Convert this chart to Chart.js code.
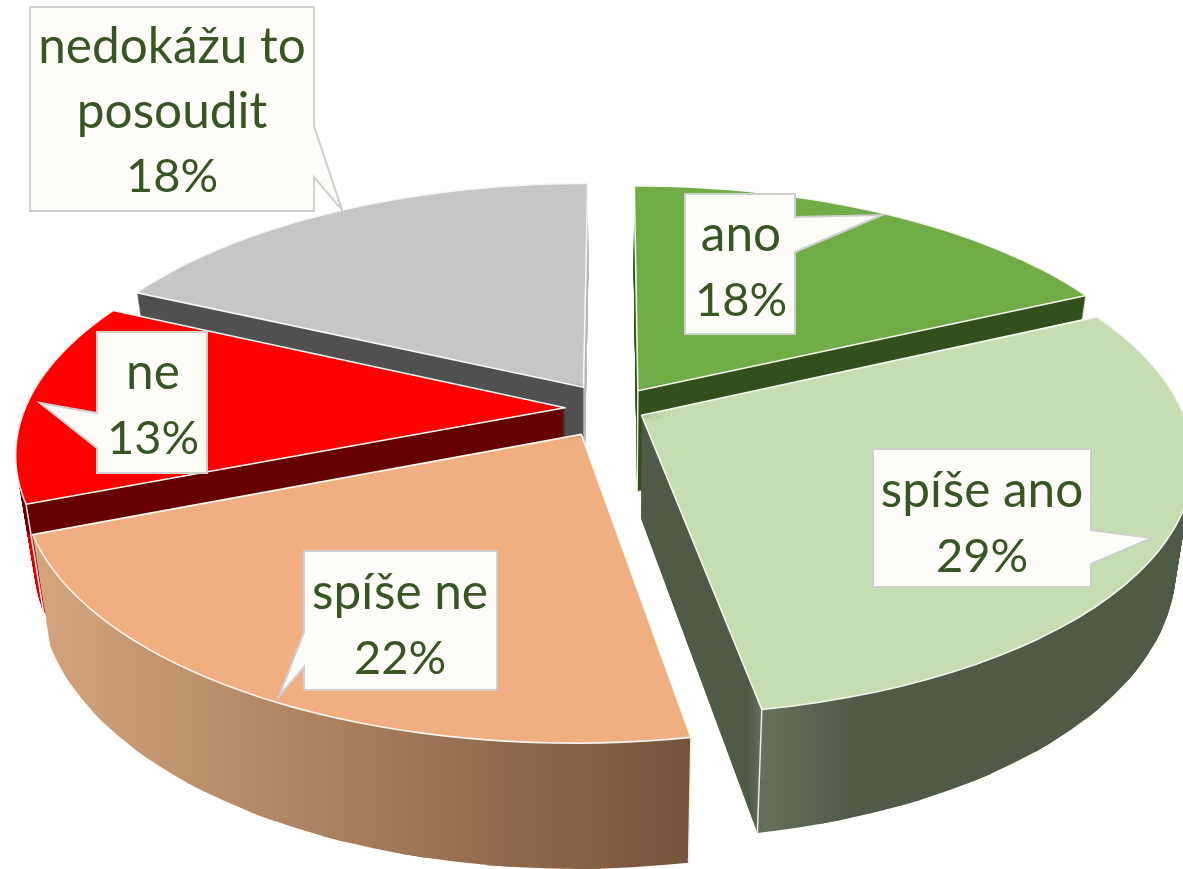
<!DOCTYPE html>
<html><head><meta charset="utf-8">
<style>html,body{margin:0;padding:0;background:#fff}canvas{display:block}</style>
<script src="https://cdn.jsdelivr.net/npm/chart.js@4/dist/chart.umd.min.js"></script>
</head><body><canvas id="c" width="1183" height="869"></canvas>
<script>
const categories = ['ano', 'spíše ano', 'spíše ne', 'ne', 'nedokážu to posoudit'];
const values = [18, 29.2, 21.8, 13, 18];
const explode = [47, 32, 64, 48, 56];
const topColors = ['#70AD47', '#C5DDB0', '#F1AE80', '#FF0000', '#C6C6C6'];

// 3D look
const R = 540, D = 3140, K = 0.455, Z = 102, CX = 613, CY = 408.5, STEP = Math.PI / 22, OVERLAP = 0.04;
const paintOrder = [4, 0, 3, 1, 2];
const wallPaint = [
  {axis:'x', from:0, to:1183, stops:[[0,'#32501B'],[1,'#32501B']]},
  {axis:'x', from:640, to:1183, stops:[[0,'#4F5A47'],[0.2,'#4F5A47'],[0.225,'#64725D'],[0.4,'#4F5A47'],[1,'#4F5A47']]},
  {axis:'x', from:40, to:690, stops:[[0,'#D4A47C'],[1,'#76533A']]},
  {axis:'y', from:0, to:869, stops:[[0,'#660000'],[0.614,'#660000'],[0.616,'#DD0000'],[1,'#DD0000']]},
  {axis:'x', from:0, to:1183, stops:[[0,'#505050'],[0.4925,'#505050'],[0.4935,'#B8B8B8'],[1,'#B8B8B8']]}
];
const edgeLines = [['apex'], ['end'], ['start'], ['start'], []];

const callouts = [
  {box:[685,194,795,334], ptr:[[795,217],[882,215],[795,252]], cx:741, y0:251, lines:['ano']},
  {box:[873,449,1091,587], ptr:[[1091,530],[1152,538],[1091,564]], cx:982, y0:507, lines:['spíše ano']},
  {box:[304,551,497,690], ptr:[[304,667],[279,696],[304,632]], cx:400, y0:609, lines:['spíše ne']},
  {box:[97,332,207,473], ptr:[[97,448],[40,403],[97,413]], cx:153, y0:389, lines:['ne']},
  {box:[30,7,314,211], ptr:[[314,126],[342,210],[314,177]], cx:172, y0:63, lines:['nedokážu to','posoudit']}
];
const labelFont = '49.5px Lato, sans-serif', pctFont = '47px Lato, sans-serif', labelColor = '#375623', lineGap = 64.5;

function project(u, v, z) {
  const s = 1 / (1 - v / D), d = 1 - 0.03 * z / Z;
  return {x: CX + u * s * d, y: CY + K * v * s + z * s};
}
function sliceFrame(arc, i) {
  const mid = (arc.startAngle + arc.endAngle) / 2, e = explode[i];
  const ax = e * Math.cos(mid), ay = e * Math.sin(mid);
  return {
    world(a, r, z) { return project(ax + r * Math.cos(a), ay + r * Math.sin(a), z); }
  };
}
function applySlice(ctx, arc, frame, z) {
  const r = arc.outerRadius, a0 = arc.startAngle, a1 = arc.endAngle;
  const sx = r * Math.cos(a0), sy = r * Math.sin(a0), ex = r * Math.cos(a1), ey = r * Math.sin(a1);
  const A = frame.world(0, 0, z), S = frame.world(a0, R, z), E = frame.world(a1, R, z);
  const det = sx * ey - ex * sy;
  const tsx = S.x - A.x, tsy = S.y - A.y, tex = E.x - A.x, tey = E.y - A.y;
  const a = (tsx * ey - tex * sy) / det, c = (tex * sx - tsx * ex) / det;
  const b = (tsy * ey - tey * sy) / det, d = (tey * sx - tsy * ex) / det;
  ctx.setTransform(a, b, c, d, A.x - a * arc.x - c * arc.y, A.y - b * arc.x - d * arc.y);
}
// draws the arc element piecewise, each narrow piece under its own perspective fit
function drawProjected(ctx, arc, frame, z) {
  const a0 = arc.startAngle, a1 = arc.endAngle, cc = arc.circumference;
  const n = Math.max(1, Math.ceil((a1 - a0) / STEP));
  for (let k = 0; k < n; k++) {
    arc.startAngle = a0 + (a1 - a0) * k / n;
    arc.endAngle = Math.min(a1, a0 + (a1 - a0) * (k + 1) / n + OVERLAP);
    arc.circumference = arc.endAngle - arc.startAngle;
    applySlice(ctx, arc, frame, z);
    arc.draw(ctx);
  }
  arc.startAngle = a0; arc.endAngle = a1; arc.circumference = cc;
}
const pie3d = {
  id: 'pie3d',
  beforeDatasetsDraw(chart) {
    const ctx = chart.ctx, arcs = chart.getDatasetMeta(0).data;
    for (const i of paintOrder) {
      const arc = arcs[i], base = arc.options, frame = sliceFrame(arc, i);
      const off = document.createElement('canvas');
      off.width = chart.width; off.height = chart.height;
      const oc = off.getContext('2d');
      arc.options = Object.assign({}, base, {offset: 0, borderWidth: 0, backgroundColor: '#000'});
      for (let z = Z; z >= 1; z -= 1) drawProjected(oc, arc, frame, z);
      oc.setTransform(1, 0, 0, 1, 0, 0);
      oc.globalCompositeOperation = 'source-in';
      const w = wallPaint[i];
      const g = w.axis === 'x' ? oc.createLinearGradient(w.from, 0, w.to, 0) : oc.createLinearGradient(0, w.from, 0, w.to);
      w.stops.forEach(s => g.addColorStop(s[0], s[1]));
      oc.fillStyle = g; oc.fillRect(0, 0, off.width, off.height);
      ctx.save(); ctx.setTransform(1, 0, 0, 1, 0, 0); ctx.drawImage(off, 0, 0);
      ctx.strokeStyle = '#ECECE6'; ctx.lineWidth = 1.5;
      for (const kind of edgeLines[i]) {
        const ang = kind === 'start' ? arc.startAngle : arc.endAngle, rr = kind === 'apex' ? 0 : R;
        const p = frame.world(ang, rr, 0), q = frame.world(ang, rr, Z);
        ctx.beginPath(); ctx.moveTo(p.x, p.y); ctx.lineTo(q.x, q.y); ctx.stroke();
      }
      ctx.restore();
      // top face, then its outline along the projected boundary
      arc.options = Object.assign({}, base, {offset: 0, borderWidth: 0});
      ctx.save();
      drawProjected(ctx, arc, frame, 0);
      ctx.setTransform(1, 0, 0, 1, 0, 0);
      const ap = frame.world(0, 0, 0);
      ctx.beginPath(); ctx.moveTo(ap.x, ap.y);
      for (let k = 0; k <= 40; k++) {
        const p = frame.world(arc.startAngle + (arc.endAngle - arc.startAngle) * k / 40, R, 0);
        ctx.lineTo(p.x, p.y);
      }
      ctx.closePath();
      ctx.strokeStyle = base.borderColor; ctx.lineWidth = 1.6; ctx.lineJoin = 'round'; ctx.stroke();
      ctx.restore();
      arc.options = base;
    }
    return false;
  },
  afterDraw(chart) {
    const ctx = chart.ctx;
    ctx.save();
    callouts.forEach((c, i) => {
      const [l, t, r, b] = c.box;
      const [p0] = c.ptr; let seq;
      if (p0[0] === r) seq = [[l, t], [r, t], ...c.ptr, [r, b], [l, b]];
      else seq = [[l, t], [r, t], [r, b], [l, b], ...c.ptr];
      ctx.beginPath();
      seq.forEach((p, k) => k ? ctx.lineTo(p[0], p[1]) : ctx.moveTo(p[0], p[1]));
      ctx.closePath();
      ctx.fillStyle = '#FDFCF8'; ctx.fill();
      ctx.strokeStyle = '#CFCFCF'; ctx.lineWidth = 2; ctx.lineJoin = 'miter'; ctx.stroke();
      ctx.fillStyle = labelColor; ctx.textAlign = 'center'; ctx.textBaseline = 'alphabetic';
      ctx.font = labelFont;
      c.lines.forEach((s, k) => ctx.fillText(s, c.cx, c.y0 + k * lineGap));
      ctx.font = pctFont;
      ctx.fillText(Math.round(values[i]) + '%', c.cx, c.y0 + c.lines.length * lineGap);
    });
    ctx.restore();
  }
};
new Chart(document.getElementById('c'), {
  type: 'pie',
  data: {labels: categories, datasets: [{
    data: values, backgroundColor: topColors, offset: explode,
    borderColor: '#F7F7F2', borderWidth: 1.2
  }]},
  options: {
    responsive: false, animation: false, events: [],
    plugins: {legend: {display: false}, tooltip: {enabled: false}}
  },
  plugins: [pie3d]
});
</script></body></html>
